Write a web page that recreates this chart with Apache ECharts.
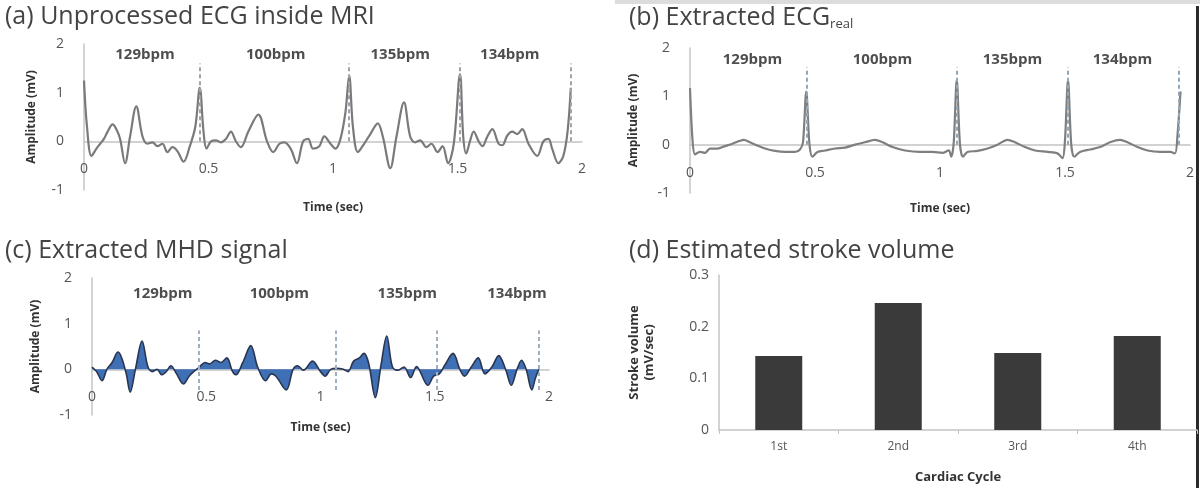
<!DOCTYPE html>
<html>
<head>
<meta charset="utf-8">
<script src="https://cdn.jsdelivr.net/npm/echarts@6/dist/echarts.min.js"></script>
<style>
html,body{margin:0;padding:0;background:#fff;}
#chart{width:1200px;height:488px;}
</style>
</head>
<body>
<div id="chart"></div>
<script>
// ---------- data ----------
const rPeakTimes = [0.465, 1.065, 1.51, 1.955];
const bpmValues = [129, 100, 135, 134];
const bpmLabelTimesA = [0.245, 0.77, 1.27, 1.71];
const bpmLabelTimesB = [0.25, 0.77, 1.29, 1.73];
const bpmLabelTimesC = [0.31, 0.82, 1.38, 1.86];

const rawT = [0.000,0.012,0.030,0.050,0.065,0.080,0.095,0.115,0.130,0.145,0.165,0.185,0.210,0.235,0.255,0.275,0.295,0.315,0.335,0.355,0.375,0.400,0.425,0.447,0.465,0.480,0.492,0.510,0.530,0.550,0.570,0.590,0.610,0.630,0.660,0.700,0.735,0.760,0.785,0.805,0.830,0.855,0.880,0.900,0.920,0.945,0.965,0.990,1.010,1.030,1.050,1.065,1.080,1.100,1.125,1.150,1.180,1.200,1.230,1.255,1.285,1.310,1.330,1.350,1.375,1.395,1.420,1.440,1.462,1.485,1.510,1.523,1.535,1.550,1.565,1.585,1.600,1.620,1.640,1.665,1.680,1.700,1.720,1.740,1.760,1.785,1.820,1.845,1.865,1.880,1.905,1.925,1.942,1.955];
const rawV = [1.25,0.30,-0.30,-0.15,-0.05,0.05,0.20,0.35,0.25,0.05,-0.45,0.10,0.72,0.10,-0.05,-0.02,-0.10,-0.05,-0.22,-0.12,-0.20,-0.42,-0.10,0.30,1.10,0.20,-0.15,0.00,0.02,-0.02,0.05,0.20,0.00,-0.12,0.20,0.55,0.00,-0.22,-0.05,-0.02,-0.15,-0.45,0.00,0.05,-0.15,-0.10,0.10,-0.05,-0.15,0.05,0.60,1.35,0.30,-0.22,-0.05,0.15,0.37,0.10,-0.55,0.10,0.80,0.10,-0.02,0.02,-0.12,-0.05,-0.22,-0.10,-0.45,-0.05,1.38,0.10,-0.25,0.00,0.20,0.00,-0.10,0.10,0.25,-0.05,-0.08,0.12,0.20,0.15,0.25,-0.05,-0.30,0.00,0.05,-0.15,-0.45,-0.30,0.20,1.10];

const realT = [0.000,0.010,0.020,0.040,0.060,0.080,0.110,0.140,0.170,0.200,0.215,0.240,0.270,0.300,0.340,0.380,0.420,0.440,0.452,0.465,0.478,0.490,0.510,0.540,0.580,0.620,0.660,0.700,0.740,0.770,0.810,0.860,0.920,0.970,1.010,1.035,1.045,1.055,1.067,1.080,1.092,1.110,1.150,1.190,1.230,1.270,1.300,1.340,1.380,1.430,1.470,1.490,1.500,1.512,1.525,1.537,1.560,1.600,1.640,1.680,1.720,1.750,1.790,1.830,1.880,1.920,1.940,1.950,1.962];
const realV = [1.17,0.10,-0.20,-0.15,-0.17,-0.08,-0.08,-0.03,0.02,0.08,0.10,0.05,-0.02,-0.08,-0.13,-0.15,-0.15,-0.10,0.05,1.10,0.00,-0.25,-0.15,-0.12,-0.08,-0.06,0.00,0.05,0.10,0.05,-0.05,-0.12,-0.15,-0.15,-0.17,-0.12,-0.25,0.05,1.34,0.00,-0.25,-0.15,-0.13,-0.08,0.00,0.10,0.05,-0.05,-0.12,-0.15,-0.18,-0.28,0.10,1.34,0.00,-0.25,-0.15,-0.10,-0.05,0.05,0.10,0.05,-0.05,-0.12,-0.15,-0.15,-0.18,0.20,1.10];

const mhdT = [0.000,0.020,0.044,0.065,0.088,0.114,0.130,0.150,0.167,0.190,0.219,0.245,0.265,0.285,0.305,0.325,0.345,0.370,0.400,0.425,0.445,0.470,0.495,0.515,0.540,0.565,0.590,0.615,0.630,0.660,0.695,0.725,0.760,0.785,0.805,0.850,0.880,0.900,0.925,0.965,1.000,1.020,1.045,1.070,1.100,1.120,1.145,1.170,1.190,1.210,1.240,1.265,1.290,1.315,1.340,1.365,1.395,1.420,1.470,1.495,1.520,1.545,1.580,1.610,1.630,1.660,1.690,1.720,1.750,1.780,1.810,1.835,1.860,1.880,1.900,1.925,1.940,1.955];
const mhdV = [0.05,-0.05,-0.25,0.00,0.15,0.38,0.25,-0.10,-0.50,0.00,0.62,0.05,-0.05,0.00,-0.12,-0.05,0.08,-0.10,-0.32,-0.15,-0.05,0.05,0.15,0.12,0.20,0.15,0.25,-0.05,-0.12,0.15,0.52,0.05,-0.25,-0.10,-0.15,-0.45,0.00,0.08,-0.02,0.18,-0.05,-0.15,0.00,0.02,0.00,-0.05,0.18,0.25,0.35,0.15,-0.62,0.10,0.73,0.05,-0.02,0.05,-0.18,0.06,-0.35,-0.15,-0.10,0.10,0.35,0.00,-0.15,0.05,0.25,-0.10,0.05,0.30,0.00,-0.35,0.00,0.20,0.00,-0.45,-0.20,0.00];

const cycleLabels = ['1st', '2nd', '3rd', '4th'];
const strokeVolume = [0.143, 0.246, 0.149, 0.182];

// ---------- helpers ----------
const zip = (t, v) => t.map((x, i) => [x, v[i]]);
const FONT = 'Open Sans';
const gray = '#c4c4c4';

function timeAxis(gi, offset, gap) {
  return {
    gridIndex: gi, type: 'value', min: 0, max: 2, interval: 0.5,
    position: 'bottom', offset: offset,
    axisLine: { onZero: false, lineStyle: { color: gray, width: 1.5 } },
    axisTick: { show: false }, splitLine: { show: false },
    axisLabel: { margin: 21, fontSize: 14, color: '#555', fontFamily: FONT },
    name: 'Time (sec)', nameLocation: 'middle', nameGap: gap,
    nameTextStyle: { fontWeight: 'bold', fontSize: 12, color: '#333', fontFamily: FONT }
  };
}
function ampAxis(gi, gap) {
  return {
    gridIndex: gi, type: 'value', min: -1, max: 2, interval: 1,
    axisLine: { show: true, onZero: false, lineStyle: { color: gray, width: 1.5 } },
    axisTick: { show: false }, splitLine: { show: false },
    axisLabel: { margin: 20, fontSize: 14, color: '#555', fontFamily: FONT },
    name: 'Amplitude (mV)', nameLocation: 'middle', nameGap: gap, nameRotate: 90,
    nameTextStyle: { fontWeight: 'bold', fontSize: 12, color: '#333', fontFamily: FONT }
  };
}
function markers(lo, hi, color) {
  return {
    silent: true, symbol: 'none', animation: false,
    label: { show: false },
    lineStyle: { type: [4, 3], color: color, width: 2 },
    data: rPeakTimes.map(t => [{ coord: [t, lo] }, { coord: [t, hi] }])
  };
}
function bpmSeries(gi, times, y) {
  return {
    type: 'scatter', xAxisIndex: gi, yAxisIndex: gi, silent: true,
    symbolSize: 1, itemStyle: { color: 'rgba(0,0,0,0)' },
    label: { show: true, position: 'inside', formatter: p => bpmValues[p.dataIndex] + 'bpm',
      fontWeight: 'bold', fontSize: 15, color: '#222', fontFamily: FONT },
    data: times.map(t => [t, y])
  };
}
const titleStyle = { fontSize: 25, fontWeight: 'normal', color: '#444', fontFamily: FONT };

const option = {
  animation: false,
  title: [
    { text: '(a) Unprocessed ECG inside MRI', left: 0, top: -1, textStyle: titleStyle },
    { text: '(b) Extracted ECG{s|real}', left: 624, top: -1, textStyle: Object.assign({}, titleStyle, {
        rich: { s: { fontSize: 13, color: '#444', fontFamily: FONT, padding: [14, 0, 0, 0] } } }) },
    { text: '(c) Extracted MHD signal', left: 0, top: 233, textStyle: titleStyle },
    { text: '(d) Estimated stroke volume', left: 624, top: 233, textStyle: titleStyle }
  ],
  grid: [
    { left: 84, top: 44, width: 498, height: 146 },
    { left: 690, top: 48, width: 500, height: 145 },
    { left: 92, top: 278, width: 457, height: 137 },
    { left: 719, top: 275, width: 478, height: 155 }
  ],
  xAxis: [
    timeAxis(0, -48.7, 60), timeAxis(1, -48.3, 58), timeAxis(2, -45.7, 52),
    {
      gridIndex: 3, type: 'category', data: cycleLabels,
      axisLine: { lineStyle: { color: gray, width: 1.5 } },
      axisTick: { show: true, length: 4, lineStyle: { color: gray } },
      axisLabel: { margin: 11, fontSize: 12, color: '#555', fontFamily: FONT },
      name: 'Cardiac Cycle', nameLocation: 'middle', nameGap: 41,
      nameTextStyle: { fontWeight: 'bold', fontSize: 13, color: '#333', fontFamily: FONT }
    }
  ],
  yAxis: [
    ampAxis(0, 46), ampAxis(1, 50), ampAxis(2, 50),
    {
      gridIndex: 3, type: 'value', min: 0, max: 0.3, interval: 0.1,
      axisLine: { show: true, lineStyle: { color: gray, width: 1.5 } },
      axisTick: { show: false }, splitLine: { show: false },
      axisLabel: { margin: 10, fontSize: 14, color: '#555', fontFamily: FONT },
      name: 'Stroke volume\n(mV/sec)', nameLocation: 'middle', nameGap: 62, nameRotate: 90,
      nameTextStyle: { fontWeight: 'bold', fontSize: 13, color: '#333', fontFamily: FONT, lineHeight: 15 }
    }
  ],
  series: [
    { type: 'line', xAxisIndex: 0, yAxisIndex: 0, data: zip(rawT, rawV), symbol: 'none', smooth: 0.35,
      lineStyle: { color: '#7a7a7a', width: 2.2 }, markLine: markers(0, 1.6, '#9aa5ae') },
    bpmSeries(0, bpmLabelTimesA, 1.77),
    { type: 'line', xAxisIndex: 1, yAxisIndex: 1, data: zip(realT, realV), symbol: 'none', smooth: 0.3,
      lineStyle: { color: '#7f7f7f', width: 2.2 }, markLine: markers(0, 1.6, '#8fa8bd') },
    bpmSeries(1, bpmLabelTimesB, 1.75),
    { type: 'line', xAxisIndex: 2, yAxisIndex: 2, data: zip(mhdT, mhdV), symbol: 'none', smooth: 0.35,
      lineStyle: { color: '#2a3550', width: 1.6 }, areaStyle: { color: '#3f6fb5', opacity: 1 },
      markLine: markers(-0.45, 0.85, '#9fb0c0') },
    bpmSeries(2, bpmLabelTimesC, 1.66),
    { type: 'bar', xAxisIndex: 3, yAxisIndex: 3, data: strokeVolume, barWidth: 47,
      itemStyle: { color: '#3a3a3a' } }
  ],
  graphic: [
    { type: 'rect', shape: { x: 1196, y: 6, width: 3, height: 482 }, style: { fill: '#2a2a2a' }, silent: true },
    { type: 'rect', shape: { x: 615, y: 0, width: 585, height: 4 }, style: { fill: '#dcdcdc' }, silent: true }
  ]
};

const chart = echarts.init(document.getElementById('chart'), null, { renderer: 'canvas' });
chart.setOption(option);
</script>
</body>
</html>
